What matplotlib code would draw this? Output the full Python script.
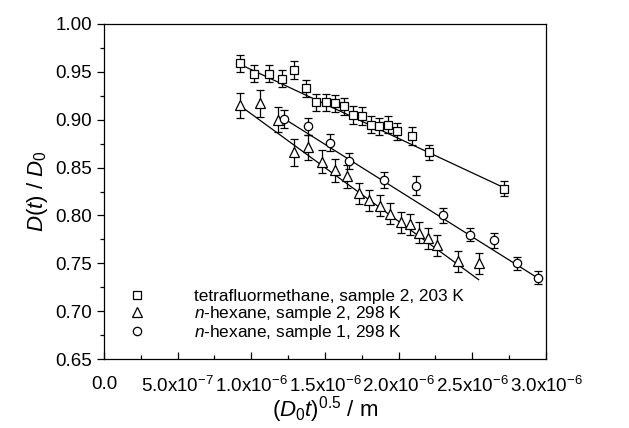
import numpy as np
import matplotlib
matplotlib.use("Agg")
import matplotlib.pyplot as plt
from matplotlib.ticker import MultipleLocator, FuncFormatter
from matplotlib.lines import Line2D

plt.rcParams["font.family"] = ["Liberation Sans", "DejaVu Sans"]
plt.rcParams["mathtext.fontset"] = "custom"
plt.rcParams["mathtext.rm"] = "Liberation Sans"
plt.rcParams["mathtext.it"] = "Liberation Sans:italic"

# tetrafluormethane, sample 2, 203 K (x in units of 1e-6 m)
x_cf4 = [0.920, 1.021, 1.117, 1.205, 1.290, 1.368, 1.436, 1.505, 1.568, 1.631,
         1.692, 1.751, 1.809, 1.865, 1.930, 1.992, 2.091, 2.207, 2.713]
y_cf4 = [0.959, 0.948, 0.948, 0.943, 0.952, 0.933, 0.918, 0.918, 0.917, 0.914,
         0.905, 0.904, 0.895, 0.893, 0.895, 0.888, 0.883, 0.866, 0.828]
e_cf4 = [0.009, 0.009, 0.009, 0.009, 0.009, 0.009, 0.009, 0.009, 0.009, 0.009,
         0.009, 0.009, 0.009, 0.009, 0.009, 0.009, 0.009, 0.008, 0.008]

# n-hexane, sample 2, 298 K
x_hex2 = [0.923, 1.062, 1.178, 1.290, 1.388, 1.482, 1.566, 1.651, 1.731, 1.802,
          1.871, 1.943, 2.014, 2.077, 2.140, 2.200, 2.262, 2.405, 2.543]
y_hex2 = [0.915, 0.917, 0.900, 0.866, 0.871, 0.856, 0.847, 0.841, 0.823, 0.816,
          0.810, 0.802, 0.793, 0.791, 0.782, 0.776, 0.769, 0.752, 0.750]
e_hex2 = [0.013, 0.014, 0.013, 0.014, 0.013, 0.012, 0.012, 0.012, 0.011, 0.011,
          0.011, 0.011, 0.011, 0.011, 0.011, 0.011, 0.011, 0.011, 0.011]

# n-hexane, sample 1, 298 K
x_hex1 = [1.223, 1.386, 1.534, 1.664, 1.903, 2.116, 2.303, 2.484, 2.647, 2.801, 2.948]
y_hex1 = [0.901, 0.893, 0.876, 0.857, 0.837, 0.831, 0.800, 0.780, 0.774, 0.750, 0.735]
e_hex1 = [0.0095, 0.009, 0.009, 0.008, 0.008, 0.010, 0.008, 0.007, 0.008, 0.007, 0.007]

# linear fits as drawn in the figure: (intercept, slope per 1e-6 m)
fit_cf4 = (1.0242, -0.0719)
fit_hex2 = (1.0182, -0.1122)
fit_hex1 = (1.0193, -0.0967)

series = [
    (x_cf4, y_cf4, e_cf4, fit_cf4, "s", 5.5, "tetrafluormethane, sample 2, 203 K"),
    (x_hex2, y_hex2, e_hex2, fit_hex2, "^", 7, "$n$-hexane, sample 2, 298 K"),
    (x_hex1, y_hex1, e_hex1, fit_hex1, "o", 6, "$n$-hexane, sample 1, 298 K"),
]

fig = plt.figure(figsize=(6.29, 4.28), dpi=100)
ax = fig.add_axes([104 / 629, 1 - 359 / 428, 442 / 629, 335 / 428])

handles = []
for xs, ys, es, fit, mk, ms, lab in series:
    xs = np.array(xs)
    ax.errorbar(xs * 1e-6, ys, yerr=es, fmt=mk, ms=ms, mfc="white", mec="black",
                mew=0.9, ecolor="black", elinewidth=0.9, capsize=3,
                capthick=0.9, zorder=3)
    xl = np.array([xs.min(), xs.max()])
    ax.plot(xl * 1e-6, fit[0] + fit[1] * xl, color="black", lw=0.9, zorder=2)
    handles.append(Line2D([], [], ls="none", marker=mk, ms=ms, mfc="white",
                          mec="black", mew=0.9, label=lab))

ax.set_xlim(0, 3e-6)
ax.set_ylim(0.65, 1.00)
ax.xaxis.set_major_locator(MultipleLocator(5e-7))
ax.xaxis.set_minor_locator(MultipleLocator(2.5e-7))
ax.yaxis.set_major_locator(MultipleLocator(0.05))
ax.yaxis.set_minor_locator(MultipleLocator(0.025))


def xfmt(v, pos):
    if abs(v) < 1e-12:
        return "0.0"
    e = int(np.floor(np.log10(abs(v)) + 1e-9))
    m = v / 10 ** e
    return "%.1fx10$^{%d}$" % (m, e)


ax.xaxis.set_major_formatter(FuncFormatter(xfmt))
ax.yaxis.set_major_formatter(FuncFormatter(lambda v, p: "%.2f" % v))
ax.tick_params(which="major", direction="out", length=5, width=0.9, labelsize=13.5)
ax.tick_params(which="minor", direction="out", length=3, width=0.9)
ax.tick_params(axis="x", which="both", direction="in", pad=12)
for s in ax.spines.values():
    s.set_linewidth(0.9)

ax.set_xlabel(r"($D_{\mathit{0}}t$)$^{0.5}$ / m", fontsize=16, labelpad=-1)
ax.set_ylabel(r"$D$($t$) / $D_{\mathit{0}}$", fontsize=16, labelpad=4)

ax.legend(handles=handles, loc="lower left", bbox_to_anchor=(0.04, 0.03),
          frameon=False, fontsize=12.4, handletextpad=2.8, labelspacing=0.0,
          borderaxespad=0.0, handlelength=1.0)

fig.savefig("out.png", dpi=100)
